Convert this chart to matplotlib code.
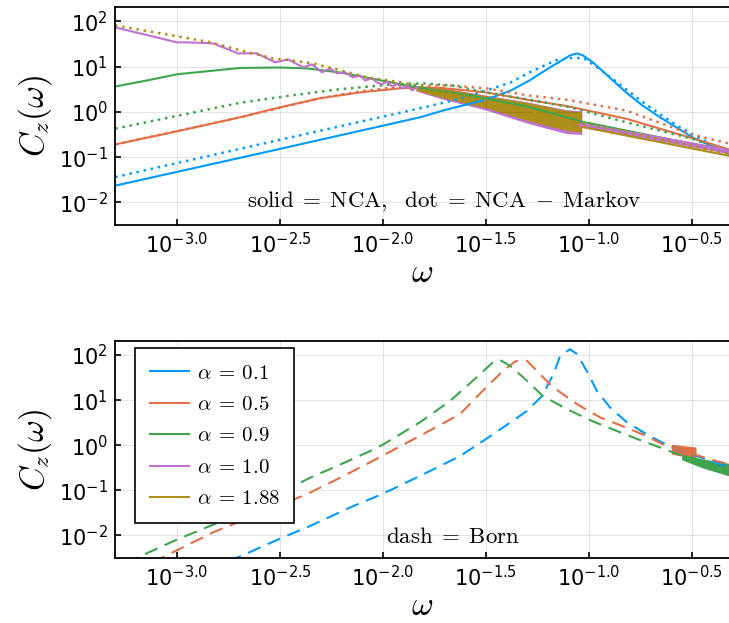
import matplotlib
matplotlib.use("Agg")
import matplotlib.pyplot as plt
import numpy as np
from matplotlib.ticker import FixedLocator, FuncFormatter, NullLocator
from matplotlib.lines import Line2D

plt.rcParams['font.family'] = ['DejaVu Sans']
plt.rcParams['mathtext.fontset'] = 'dejavusans'

colors = ['#009AFA', '#E36F47', '#3EA44E', '#C271D2', '#AC8E18']
alphas = ['0.1', '0.5', '0.9', '1.0', '1.88']
xtick_exps = [-3.0, -2.5, -2.0, -1.5, -1.0, -0.5]
ytick_exps = [-2, -1, 0, 1, 2]

# all values below are log10(omega), log10(C_z)

# --- top panel: NCA (solid) ---
nca01_w = [-3.30, -2.60, -1.82, -1.70, -1.50, -1.38, -1.29, -1.19, -1.09, -1.06, -1.03,
           -0.98, -0.90, -0.82, -0.74, -0.655, -0.573, -0.495, -0.413, -0.32]
nca01_c = [-1.63, -0.92, -0.12, 0.04, 0.27, 0.47, 0.69, 0.98, 1.25, 1.29, 1.25,
           1.09, 0.76, 0.43, 0.14, -0.12, -0.35, -0.57, -0.74, -0.93]
nca05_w = [-3.30, -3.0, -2.694, -2.50, -2.306, -2.112, -1.917, -1.80, -1.72, -1.50,
           -1.29, -1.11, -0.82, -0.50, -0.32]
nca05_c = [-0.72, -0.43, -0.12, 0.10, 0.30, 0.43, 0.52, 0.54, 0.53, 0.43,
           0.26, 0.13, -0.15, -0.58, -0.83]
nca09_w = [-3.30, -3.15, -3.0, -2.694, -2.50, -2.369, -2.209, -2.015, -1.883, -1.6,
           -1.3, -1.03, -0.66, -0.32]
nca09_c = [0.56, 0.69, 0.83, 0.97, 0.98, 0.96, 0.87, 0.70, 0.58, 0.38,
           0.12, -0.22, -0.56, -0.86]
nca10_w = [-3.301, -3.0, -2.951, -2.825, -2.704, -2.612, -2.524, -2.461, -2.388, -2.345,
           -2.296, -2.257, -2.223, -2.184, -2.146, -2.112, -2.087, -2.053, -2.029, -2.005,
           -1.981, -1.956, -1.932, -1.908, -1.883, -1.859, -1.835]
nca10_c = [1.867, 1.535, 1.535, 1.513, 1.292, 1.292, 1.093, 1.159, 0.982, 1.049,
           0.872, 0.960, 0.850, 0.872, 0.761, 0.805, 0.695, 0.739, 0.650, 0.606,
           0.673, 0.562, 0.628, 0.518, 0.584, 0.473, 0.540]
# dense oscillation band (alpha = 1.0 and 1.88), then smooth tail
band_w = [-1.84, -1.71, -1.50, -1.30, -1.11, -1.035]
band10_hi = [0.57, 0.53, 0.37, 0.22, 0.05, 0.02]
band10_lo = [0.46, 0.28, 0.04, -0.25, -0.48, -0.50]
band188_hi = [0.56, 0.52, 0.36, 0.21, 0.03, 0.00]
band188_lo = [0.48, 0.31, 0.09, -0.19, -0.41, -0.45]
tail_w = [-1.035, -0.655, -0.32]
tail10_c = [-0.30, -0.60, -0.88]
tail188_c = [-0.33, -0.67, -0.97]

# --- top panel: NCA - Markov (dotted) ---
mk01_w = [-3.30, -2.60, -1.82, -1.66, -1.50, -1.38, -1.29, -1.16, -1.07, -1.02,
          -0.98, -0.90, -0.82, -0.74, -0.655, -0.573, -0.495, -0.413, -0.32]
mk01_c = [-1.44, -0.72, 0.08, 0.25, 0.47, 0.65, 0.87, 1.14, 1.20, 1.17,
          1.05, 0.78, 0.50, 0.22, -0.05, -0.30, -0.50, -0.70, -0.88]
mk05_w = [-3.30, -2.694, -2.306, -2.112, -1.917, -1.80, -1.66, -1.50, -1.29, -1.11,
          -0.82, -0.50, -0.32]
mk05_c = [-0.72, -0.12, 0.30, 0.45, 0.56, 0.59, 0.58, 0.52, 0.36, 0.27,
          0.03, -0.50, -0.70]
mk09_w = [-3.30, -3.0, -2.694, -2.45, -2.21, -1.97, -1.80, -1.66, -1.50, -1.29,
          -1.09, -0.82, -0.50, -0.32]
mk09_c = [-0.37, -0.09, 0.20, 0.36, 0.50, 0.60, 0.63, 0.58, 0.43, 0.27,
          0.10, -0.23, -0.59, -0.90]
mk188_w = [-3.301, -3.0, -2.84, -2.694, -2.534, -2.45, -2.34, -2.209, -2.078, -1.966,
           -1.82, -1.723, -1.50, -1.30, -1.10, -1.03, -0.66, -0.32]
mk188_c = [1.91, 1.67, 1.54, 1.36, 1.18, 1.14, 1.07, 0.92, 0.76, 0.69,
           0.58, 0.47, 0.25, 0.02, -0.20, -0.25, -0.60, -0.93]

# --- bottom panel: Born (dashed) ---
born01_w = [-2.75, -2.50, -2.354, -2.16, -1.998, -1.82, -1.626, -1.515, -1.383, -1.301,
            -1.228, -1.17, -1.14, -1.092, -1.058, -1.01, -0.961, -0.898, -0.816, -0.704,
            -0.626, -0.573, -0.476, -0.33]
born01_c = [-2.58, -2.07, -1.79, -1.38, -1.07, -0.68, -0.24, 0.09, 0.50, 0.76,
            1.09, 1.60, 1.98, 2.13, 2.02, 1.64, 1.20, 0.84, 0.51, 0.20,
            0.02, -0.09, -0.24, -0.47]
born05_w = [-3.12, -2.825, -2.466, -2.354, -2.243, -2.063, -1.82, -1.626, -1.515, -1.417,
            -1.36, -1.335, -1.30, -1.252, -1.175, -1.058, -0.947, -0.835, -0.738, -0.641,
            -0.55, -0.476, -0.413, -0.32]
born05_c = [-2.60, -1.93, -1.27, -1.05, -0.80, -0.38, 0.21, 0.69, 1.21, 1.65,
            1.85, 1.89, 1.87, 1.64, 1.29, 0.91, 0.62, 0.42, 0.24, 0.02,
            -0.12, -0.22, -0.31, -0.42]
born09_w = [-3.25, -3.0, -2.728, -2.466, -2.354, -2.243, -2.194, -2.063, -1.998, -1.82,
            -1.675, -1.544, -1.466, -1.432, -1.383, -1.32, -1.223, -1.107, -0.981, -0.85,
            -0.738, -0.607, -0.45, -0.32]
born09_c = [-2.61, -2.09, -1.58, -0.98, -0.72, -0.50, -0.40, -0.13, 0.02, 0.51,
            0.98, 1.51, 1.84, 1.89, 1.76, 1.51, 1.09, 0.80, 0.53, 0.29,
            0.09, -0.13, -0.42, -0.56]
noise05_w = [-0.60, -0.54, -0.48]
noise05_hi = [0.02, -0.01, -0.04]
noise05_lo = [-0.20, -0.24, -0.28]
noise09_w = [-0.55, -0.45, -0.32]
noise09_hi = [-0.20, -0.30, -0.40]
noise09_lo = [-0.32, -0.50, -0.68]


def p(a):
    return 10.0 ** np.asarray(a)


LW = 1.5
DOT = (0, (1, 1.9))
DASH = (0, (6.5, 3.8))


def style_axes(ax):
    ax.set_xscale('log')
    ax.set_yscale('log')
    ax.set_xlim(p(-3.301), p(-0.32))
    ax.set_ylim(p(-2.5), p(2.31))
    ax.xaxis.set_major_locator(FixedLocator(p(xtick_exps)))
    ax.xaxis.set_major_formatter(FuncFormatter(lambda v, pos: r'$10^{%.1f}$' % np.log10(v)))
    ax.yaxis.set_major_locator(FixedLocator(p(ytick_exps)))
    ax.yaxis.set_major_formatter(FuncFormatter(lambda v, pos: r'$10^{%d}$' % round(np.log10(v))))
    ax.xaxis.set_minor_locator(NullLocator())
    ax.yaxis.set_minor_locator(NullLocator())
    ax.grid(True, color='black', alpha=0.1, lw=0.8)
    ax.tick_params(axis='both', direction='in', length=4, width=1.2, top=False, right=False)
    ax.tick_params(axis='x', labelsize=15, pad=5)
    ax.tick_params(axis='y', labelsize=15, pad=5)
    for s in ['left', 'bottom', 'top']:
        ax.spines[s].set_linewidth(1.3)
    ax.spines['right'].set_visible(False)
    ax.set_xlabel(r'$\omega$', fontsize=24, math_fontfamily='cm', labelpad=-1)
    ax.set_ylabel(r'$C_z(\omega)$', fontsize=24, math_fontfamily='cm', labelpad=4)


fig = plt.figure(figsize=(7.29, 6.23), dpi=100)
ax1 = fig.add_axes([0.1578, 0.6388, 0.8422, 0.3495])
ax2 = fig.add_axes([0.1578, 0.1043, 0.8422, 0.3483])

# top panel
ax1.plot(p(nca01_w), p(nca01_c), color=colors[0], lw=LW)
ax1.plot(p(mk01_w), p(mk01_c), color=colors[0], lw=1.8, ls=DOT)
ax1.plot(p(nca05_w), p(nca05_c), color=colors[1], lw=LW)
ax1.plot(p(mk05_w), p(mk05_c), color=colors[1], lw=1.8, ls=DOT)
ax1.plot(p(nca09_w), p(nca09_c), color=colors[2], lw=LW)
ax1.plot(p(mk09_w), p(mk09_c), color=colors[2], lw=1.8, ls=DOT)
ax1.plot(p(nca10_w), p(nca10_c), color=colors[3], lw=LW)
ax1.fill_between(p(band_w), p(band10_lo), p(band10_hi), color=colors[3], lw=0)
ax1.plot(p(tail_w), p(tail10_c), color=colors[3], lw=3.5)
ax1.fill_between(p(band_w), p(band188_lo), p(band188_hi), color=colors[4], lw=0)
ax1.plot(p(tail_w), p(tail188_c), color=colors[4], lw=LW)
ax1.plot(p(mk188_w), p(mk188_c), color=colors[4], lw=1.8, ls=DOT)
ax1.text(p(-1.705), p(-1.98),
         r'$\mathrm{solid}\;=\;\mathrm{NCA},\ \ \mathrm{dot}\;=\;\mathrm{NCA}\;-\;\mathrm{Markov}$',
         ha='center', va='center', fontsize=16.5, math_fontfamily='cm')
style_axes(ax1)

# bottom panel
ax2.plot(p(born01_w), p(born01_c), color=colors[0], lw=LW, ls=DASH)
ax2.plot(p(born05_w), p(born05_c), color=colors[1], lw=LW, ls=DASH)
ax2.fill_between(p(noise05_w), p(noise05_lo), p(noise05_hi), color=colors[1], lw=0)
ax2.plot(p(born09_w), p(born09_c), color=colors[2], lw=LW, ls=DASH)
ax2.fill_between(p(noise09_w), p(noise09_lo), p(noise09_hi), color=colors[2], lw=0)
ax2.text(p(-1.66), p(-2.03), r'$\mathrm{dash}\;=\;\mathrm{Born}$',
         ha='center', va='center', fontsize=16.5, math_fontfamily='cm')
style_axes(ax2)

handles = [Line2D([], [], color=c, lw=LW) for c in colors]
labels = [r'$\alpha\:=\:%s$' % a for a in alphas]
leg = ax2.legend(handles, labels, loc='upper left', bbox_to_anchor=(0.0326, 0.968),
                 borderaxespad=0, fontsize=15, frameon=True, fancybox=False,
                 edgecolor='black', framealpha=1, handlelength=1.9, handletextpad=0.35,
                 labelspacing=0.55, borderpad=0.7)
leg.get_frame().set_linewidth(1.2)
for t in leg.get_texts():
    t.set_math_fontfamily('cm')

fig.savefig('out.png', dpi=100)
